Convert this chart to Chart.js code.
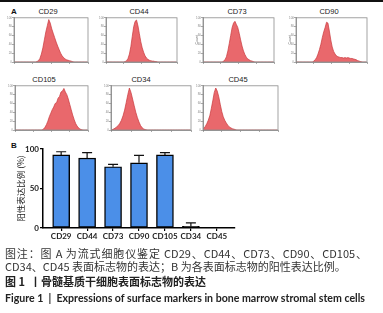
<!DOCTYPE html>
<html lang="zh">
<head>
<meta charset="UTF-8">
<title>Figure 1</title>
<script src="https://cdn.jsdelivr.net/npm/chart.js"></script>
<style>
  body { margin: 0; background: #fff; }
  #page { position: relative; width: 383px; height: 313px; overflow: hidden; }
  .abs { position: absolute; white-space: nowrap; line-height: 1; }
  .htitle { font: 7.5px "Liberation Sans", Arial, sans-serif; color: #222; transform: translateX(-50%); }
  .panel { font: bold 8px "Liberation Sans", Arial, sans-serif; color: #111; }
  .cap { left: 5px; font-family: "Noto Sans CJK SC", sans-serif; font-size: 11px; color: #333; }
  canvas { position: absolute; }
</style>
</head>
<body>
<div id="page">
  <div class="abs" style="left:0;top:0;width:383px;height:2px;background:#111"></div>
  <div class="abs panel" style="left:11px;top:7px">A</div>
  <div class="abs panel" style="left:11px;top:141px">B</div>

  <canvas id="bars" width="245" height="108" style="left:0;top:140px"></canvas>

  <div class="abs cap" style="top:248px;width:362px;text-align:justify;text-align-last:justify">图注：图 A 为流式细胞仪鉴定 CD29、CD44、CD73、CD90、CD105、</div>
  <div class="abs cap" style="top:261px">CD34、CD45 表面标志物的表达；B 为各表面标志物的阳性表达比例。</div>
  <div class="abs cap" style="top:276px;font-weight:bold;color:#222">图 1 &nbsp;丨骨髓基质干细胞表面标志物的表达</div>
  <div class="abs" style="left:5px;top:292px;font:bold 10.6px Lato, sans-serif;color:#222">Figure 1 &nbsp;|&nbsp; Expressions of surface markers in bone marrow stromal stem cells</div>
</div>

<script>
  // Panel B: positive expression rate (%)
  const markers = ["CD29", "CD44", "CD73", "CD90", "CD105", "CD34", "CD45"];
  const positiveRate = [92.5, 88.5, 77.5, 82.5, 92.5, 2, 0];
  const rateSD = [4, 7, 3, 9.5, 3, 4.5, 0];

  // Panel A: flow cytometry histograms, 50 bins each (count, % of peak)
  const cd29Counts = [0,0,0,0,0, 0,0,0,0,0, 0,0,0,0,0, 1,3,8,18,32, 50,68,82,96,88, 75,65,55,45,36, 28,20,14,10,7, 5,4,3,2,1, 0,0,0,0,0, 0,0,0,0,0];
  const cd44Counts = [0,0,0,0,0, 0,0,0,0,0, 0,0,0,1,3, 8,18,35,58,80, 92,95,82,64,46, 32,22,14,9,6, 4,3,2,2,1, 1,0,0,0,0, 0,0,0,0,0, 0,0,0,0,0];
  const cd73Counts = [0,0,0,0,0, 0,0,0,0,0, 0,0,0,0,2, 5,12,25,42,60, 78,88,92,85,78, 65,50,36,25,17, 11,7,5,3,2, 1,0,0,0,0, 0,0,0,0,0, 0,0,0,0,0];
  const cd90Counts = [0,0,0,0,0, 0,0,0,0,0, 0,0,2,5,10, 18,28,40,55,68, 78,90,88,70,50, 34,24,18,14,12, 11,10,10,9,10, 9,10,9,8,8, 7,6,5,3,2, 1,0,0,0,0];
  const cd105Counts = [0,0,0,0,0, 0,0,0,0,0, 0,0,0,0,0, 0,0,0,0,2, 6,12,20,30,38, 46,52,60,62,72, 76,86,88,94,86, 80,70,58,46,34, 24,15,9,5,2, 1,0,0,0,0];
  const cd34Counts = [0,2,4,7,10, 15,22,32,45,62, 80,95,85,70,55, 40,28,18,10,5, 2,1,0,0,0, 0,0,0,0,0, 0,0,0,0,0, 0,0,0,0,0, 0,0,0,0,0, 0,0,0,0,0];
  const cd45Counts = [3,8,14,22,32, 48,66,85,95,88, 75,58,42,30,22, 16,11,7,5,3, 2,1,0,0,0, 0,0,0,0,0, 0,0,0,0,0, 0,0,0,0,0, 0,0,0,0,0, 0,0,0,0,0];
  const histCounts = [cd29Counts, cd44Counts, cd73Counts, cd90Counts, cd105Counts, cd34Counts, cd45Counts];
  const decadeLabels = ["10⁰", "10¹", "10²", "10³"];
  const binStart = -0.6, binWidth = 0.08;

  // where each small histogram sits: [left, top, width, height] of plot box, title centre x
  const histLayout = [
    { box: [14, 17, 74, 45], tx: 48, countTitle: false },
    { box: [106, 17, 71, 45], tx: 139, countTitle: false },
    { box: [203, 17, 71, 45], tx: 237, countTitle: true },
    { box: [296, 17, 71, 45], tx: 329, countTitle: true },
    { box: [15, 85, 73, 45], tx: 44, countTitle: false },
    { box: [111, 85, 80, 45], tx: 141, countTitle: false },
    { box: [203, 85, 75, 45], tx: 238, countTitle: false }
  ];

  const page = document.getElementById("page");

  // grey frame round each histogram
  const frame = {
    id: "frame",
    afterDraw(chart) {
      const { ctx, chartArea: a } = chart;
      ctx.save();
      ctx.strokeStyle = "#8c8c8c";
      ctx.lineWidth = 0.8;
      ctx.strokeRect(a.left, a.top, a.right - a.left, a.bottom - a.top);
      ctx.restore();
    }
  };

  histLayout.forEach((p, k) => {
    const [l, t, w, h] = p.box;
    const cv = document.createElement("canvas");
    cv.width = w + 9;
    cv.height = h + 8;
    cv.style.left = (l - 8) + "px";
    cv.style.top = (t - 1) + "px";
    page.appendChild(cv);

    const title = document.createElement("div");
    title.className = "abs htitle";
    title.style.left = p.tx + "px";
    title.style.top = (t - 10) + "px";
    title.textContent = markers[k];
    page.appendChild(title);

    new Chart(cv, {
      type: "line",
      data: {
        datasets: [{
          data: histCounts[k].map((c, i) => ({ x: binStart + (i + 0.5) * binWidth, y: c })),
          fill: "origin",
          backgroundColor: "#e9686c",
          borderColor: "#c9393d",
          borderWidth: 0.7,
          pointRadius: 0
        }]
      },
      options: {
        responsive: false,
        animation: false,
        layout: { padding: { top: 1, right: 1 } },
        plugins: { legend: { display: false }, tooltip: { enabled: false } },
        scales: {
          x: {
            type: "linear", min: -0.6, max: 3.4,
            ticks: { stepSize: 1, includeBounds: false, font: { size: 3.5 }, color: "#777", padding: 0,
                     maxRotation: 0, callback: v => decadeLabels[v] ?? "" },
            grid: { drawOnChartArea: false, tickLength: 2, color: "#555", lineWidth: 0.5 },
            border: { color: "#555", width: 0.6 },
            afterFit: s => { s.height = 7; }
          },
          y: {
            min: 0, max: 100,
            ticks: { stepSize: 20, font: { size: 3 }, color: "#888", padding: 0 },
            grid: { drawOnChartArea: false, tickLength: 2, color: "#555", lineWidth: 0.5 },
            border: { color: "#555", width: 0.6 },
            title: { display: p.countTitle, text: "Count", font: { size: 3.5 }, color: "#666", padding: 0 },
            afterFit: s => { s.width = 8; }
          }
        }
      },
      plugins: [frame]
    });
  });

  // upper error bars on panel B
  const errorBars = {
    id: "errorBars",
    beforeDatasetsDraw(chart) {
      const { ctx, scales: { x, y } } = chart;
      ctx.save();
      ctx.strokeStyle = "#111";
      ctx.lineWidth = 1.2;
      positiveRate.forEach((v, i) => {
        if (!rateSD[i]) return;
        const px = x.getPixelForValue(i);
        const base = y.getPixelForValue(v);
        const top = y.getPixelForValue(v + rateSD[i]);
        ctx.beginPath();
        ctx.moveTo(px, base);
        ctx.lineTo(px, top);
        ctx.moveTo(px - 5, top);
        ctx.lineTo(px + 5, top);
        ctx.stroke();
      });
      ctx.restore();
    }
  };

  new Chart(document.getElementById("bars"), {
    type: "bar",
    data: {
      datasets: [{
        data: markers.map((m, i) => ({ x: i, y: positiveRate[i] })),
        // the tiny CD34 bar reads as a solid black band in the original
        backgroundColor: positiveRate.map(v => v < 5 ? "#000" : "#4b8fe8"),
        borderColor: "#000",
        borderWidth: 1.4,
        borderSkipped: false,
        barThickness: 17
      }]
    },
    options: {
      responsive: false,
      animation: false,
      layout: { padding: { top: 9, right: 10 } },
      plugins: { legend: { display: false }, tooltip: { enabled: false } },
      scales: {
        x: {
          type: "linear", min: -0.7, max: 6.7, offset: false,
          ticks: { stepSize: 1, includeBounds: false, autoSkip: false, maxRotation: 0, padding: 1,
                   font: { family: "Lato", size: 8, weight: "bold" }, color: "#222", callback: v => markers[v] ?? "" },
          grid: { offset: false, drawOnChartArea: false, tickLength: 3, color: "#000", lineWidth: 1.2 },
          border: { color: "#000", width: 1.5 },
          afterFit: s => { s.height = 20; }
        },
        y: {
          min: 0, max: 100,
          ticks: { stepSize: 50, padding: 1, font: { family: "Lato", size: 8, weight: "bold" }, color: "#222" },
          grid: { drawOnChartArea: false, tickLength: 3, color: "#000", lineWidth: 1.2 },
          border: { color: "#000", width: 1.5 },
          title: { display: true, text: "阳性表达比例 (%)", color: "#222",
                   font: { family: "Noto Sans CJK SC", size: 8.5 }, padding: { top: 16, bottom: 0 } },
          afterFit: s => { s.width = 43; }
        }
      }
    },
    plugins: [errorBars]
  });
</script>
</body>
</html>
